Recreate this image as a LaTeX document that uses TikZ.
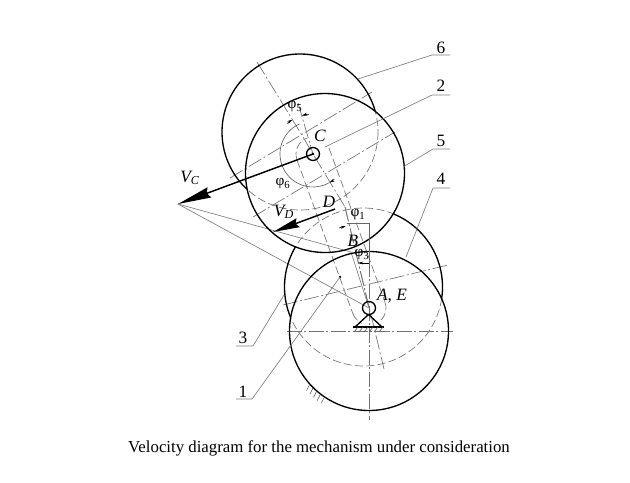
\documentclass[tikz,border=0pt]{standalone}
\usepackage{fontspec}
\setmainfont{Liberation Serif}
\usetikzlibrary{arrows.meta}

\tikzset{every picture/.style={line width=0.75pt}}
\tikzset{
  outline/.style={line width=1pt,black},
  thinline/.style={line width=0.5pt,black!60},
  leader/.style={line width=0.5pt,black!50},
  axis/.style={line width=0.5pt,black!55,dash pattern=on 11pt off 2pt on 1.5pt off 2pt},
  hidden/.style={line width=0.5pt,black!55,dash pattern=on 6pt off 2.5pt},
  label/.style={inner sep=0.75pt,font=\fontsize{13}{13}\selectfont},
  smalllabel/.style={inner sep=0.75pt,font=\fontsize{11.5}{11.5}\selectfont},
  angletip/.style={line width=0.4pt,black,-{Stealth[length=4pt,width=2.2pt]}}
}

\begin{document}
\begin{tikzpicture}[x=0.75pt,y=0.75pt,yscale=-1,xscale=1]
\useasboundingbox (0,0) rectangle (630,482);

%Centres
\coordinate (A) at (369,308);
\coordinate (C) at (313,154);
\coordinate (O1) at (369,331);
\coordinate (O3) at (363.5,287);
\coordinate (O5) at (325,173);
\coordinate (O6) at (300,132);
\coordinate (D) at (335,209);
\coordinate (B) at (351,252);
\coordinate (K) at (345,207);
\coordinate (Tip) at (178,204);
\coordinate (TipD) at (273,232);

%Centre lines
\draw [axis] (287,331) -- (453,331);
\draw [axis] (369,240) -- (369,420);
\draw [axis] (230,178) -- (372,92);
\draw [axis] (253,217) -- (395,132);
\draw [axis] (283,305) -- (448,265);
\draw [axis] (257,62) -- (O6) -- (C) -- (K);
\draw [axis] (K) -- (384,369);
\draw [axis] (K) -- (A);
\draw [axis] (298,103) -- (C);

%Hidden pulley outlines
\draw [hidden] (297,160) -- (353,314);
\draw [hidden] (329,148) -- (385,302);
\draw [hidden,shift={(C)}] (160:17) arc (160:250:17);
\draw [hidden,shift={(A)}] (-20:17) arc (-20:60:17);
\draw [hidden,shift={(A)}] (160:17) arc (160:115:17);

%Velocity rays
\draw [leader] (Tip) -- (B) -- (A);
\draw [leader] (Tip) -- (A);

%Arcs 6 and 3, solid outside the other circles, dashed inside
\begin{scope}[even odd rule]
\clip (0,0) rectangle (630,482) (O5) circle (79.5);
\draw [outline] (O6) circle (78);
\end{scope}
\begin{scope}
\clip (O5) circle (79.5);
\draw [hidden] (O6) circle (78);
\end{scope}
\begin{scope}[even odd rule]
\clip (0,0) rectangle (630,482) (O5) circle (79.5);
\clip (0,0) rectangle (630,482) (O1) circle (79.5);
\draw [outline] (O3) circle (79);
\end{scope}
\begin{scope}
\clip (O5) circle (79.5);
\draw [hidden] (O3) circle (79);
\end{scope}
\begin{scope}
\clip (O1) circle (79.5);
\draw [hidden] (O3) circle (79);
\end{scope}
\draw [outline] (O5) circle (79.5);
\draw [outline] (O1) circle (79.5);

%Angles
\draw [thinline,shift={(C)}] (246:33) arc (246:60:33);
\draw [angletip,shift={(C)}] (50:33) arc (50:60:33);
\draw [angletip,shift={(C)}] (230:40) arc (230:239:40);
\draw [angletip,shift={(C)}] (264:40) arc (264:254:40);
\draw [thinline] (347,223) -- (369,223) -- (369,240);
\draw [angletip] (339,228) -- (346,226);
\draw [thinline] (369,240) -- (369,268);
\draw [angletip] (369,263) -- (358,263);

%Joints
\draw [outline] (C) circle (6.5);
\fill (C) circle (1.3);
\draw [outline] (A) circle (6.5);
\draw [outline] (368.5,314.5) -- (355,327) (368.5,314.5) -- (382,327);
\draw [outline] (353,327) -- (384,327);
\foreach \hx in {358,363,368,373,378,383}
  \draw [line width=0.4pt,black!70] (\hx,327) -- (\hx-4,332);
\foreach \ha in {124,127.5,131,134.5,138}
  \draw [line width=0.4pt,black!70,shift={(O1)}] (\ha:80) -- ++(-3,6);
\fill (340,277) circle (1.3);

%Velocities
\draw [line width=1.1pt,-{Stealth[length=25pt,width=8pt,inset=2pt]}] (C) -- (Tip);
\draw [line width=1.1pt,-{Stealth[length=20pt,width=7pt,inset=2pt]}] (D) -- (TipD);

%Leaders
\coordinate (e6) at (358,79); \coordinate (k6) at (432,55); \coordinate (f6) at (450,55);
\coordinate (e2) at (325,147); \coordinate (k2) at (432,95); \coordinate (f2) at (450,95);
\coordinate (e5) at (403,167); \coordinate (k5) at (433,149); \coordinate (f5) at (450,149);
\coordinate (e4) at (406,257); \coordinate (k4) at (433,188); \coordinate (f4) at (450,188);
\coordinate (e3) at (284,295); \coordinate (k3) at (253,346); \coordinate (f3) at (236,346);
\coordinate (e1) at (340,277); \coordinate (k1) at (252,399); \coordinate (f1) at (236,399);
\foreach \lname in {1,2,3,4,5,6}
  \draw [leader] (e\lname) -- (k\lname) -- (f\lname);

% Text Node
\node [label] (t6) at (441,48) {6};
\node [label] (t2) at (441,86) {2};
\node [label] (t5) at (441,141) {5};
\node [label] (t4) at (441,179) {4};
\node [label] (t3) at (243,338) {3};
\node [label] (t1) at (243,392) {1};
\node [label] (tC) at (320,136) {\itshape C};
\node [label] (tD) at (329,202) {\itshape D};
\node [label] (tB) at (353,241) {\itshape B};
\node [label] (tAE) at (392,296) {\itshape A, E};
\node [label] (tVC) at (190,178) {\itshape V\textsubscript{C}};
\node [label] (tVD) at (284,212) {\itshape V\textsubscript{D}};
\node [smalllabel] (p5) at (295,107) {φ\textsubscript{5}};
\node [smalllabel] (p6) at (283,184) {φ\textsubscript{6}};
\node [smalllabel] (p1) at (358,215) {φ\textsubscript{1}};
\node [smalllabel] (p3) at (362,255) {φ\textsubscript{3}};
\node [label,font=\fontsize{12.6}{12.6}\selectfont] (caption) at (319,448) {Velocity diagram for the mechanism under consideration};

\end{tikzpicture}
\end{document}
